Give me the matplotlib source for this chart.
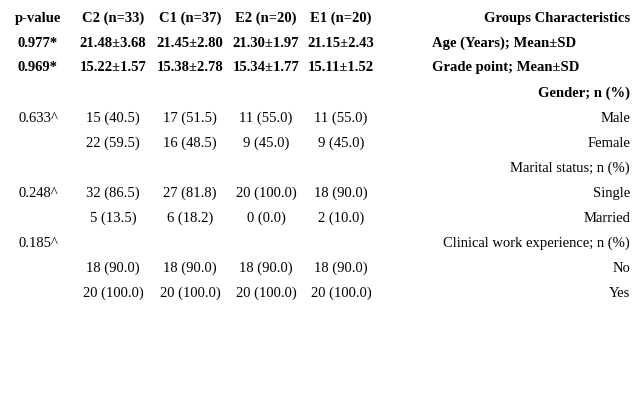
import matplotlib.pyplot as plt

plt.rcParams['font.family'] = ['Liberation Serif', 'DejaVu Serif']

header = ['p-value', 'C2 (n=33)', 'C1 (n=37)', 'E2 (n=20)', 'E1 (n=20)', 'Groups Characteristics']
rows = [
    ['0.977*', '21.48±3.68', '21.45±2.80', '21.30±1.97', '21.15±2.43', 'Age (Years); Mean±SD'],
    ['0.969*', '15.22±1.57', '15.38±2.78', '15.34±1.77', '15.11±1.52', 'Grade point; Mean±SD'],
    ['', '', '', '', '', 'Gender; n (%)'],
    ['0.633^', '15 (40.5)', '17 (51.5)', '11 (55.0)', '11 (55.0)', 'Male'],
    ['', '22 (59.5)', '16 (48.5)', '9 (45.0)', '9 (45.0)', 'Female'],
    ['', '', '', '', '', 'Marital status; n (%)'],
    ['0.248^', '32 (86.5)', '27 (81.8)', '20 (100.0)', '18 (90.0)', 'Single'],
    ['', '5 (13.5)', '6 (18.2)', '0 (0.0)', '2 (10.0)', 'Married'],
    ['0.185^', '', '', '', '', 'Clinical work experience; n (%)'],
    ['', '18 (90.0)', '18 (90.0)', '18 (90.0)', '18 (90.0)', 'No'],
    ['', '20 (100.0)', '20 (100.0)', '20 (100.0)', '20 (100.0)', 'Yes'],
]
bold_rows = [0, 1, 2]     # index in rows; header is bold too
left_rows = [0, 1]        # characteristics text left-aligned

W, H = 640, 410
fig = plt.figure(figsize=(6.4, 4.1), dpi=100)
ax = fig.add_axes([0, 0, 1, 1])
ax.set_xlim(0, W)
ax.set_ylim(H, 0)
ax.axis('off')

col_x = [38, 113, 190, 266, 341]
row_y = [17, 42, 66, 92, 117, 142, 167, 192, 217, 242, 267, 292]

def draw_row(y, cells, bold, left=False):
    w = 'bold' if bold else 'normal'
    for x, t in zip(col_x, cells[:5]):
        ax.text(x, y, t, ha='center', va='center_baseline', fontsize=10.5, fontweight=w)
    if left:
        ax.text(432, y, cells[5], ha='left', va='center_baseline', fontsize=10.5, fontweight=w)
    else:
        ax.text(630, y, cells[5], ha='right', va='center_baseline', fontsize=10.5, fontweight=w)

draw_row(row_y[0], header, True)
for i, r in enumerate(rows):
    draw_row(row_y[i + 1], r, i in bold_rows, i in left_rows)

fig.savefig('out.png', dpi=100)
